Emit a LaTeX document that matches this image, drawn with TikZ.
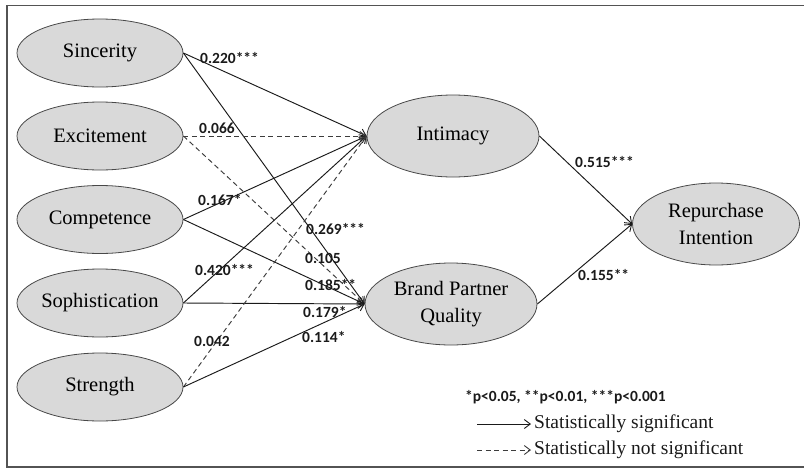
\documentclass[tikz,border=0pt]{standalone}
\usepackage{fontspec}
\setmainfont{Liberation Serif}
\newfontfamily\labfont{Carlito}
\usetikzlibrary{arrows.meta,shapes.geometric}
\definecolor{ellfill}{HTML}{D9D9D9}
\definecolor{ink}{HTML}{1A1A1A}
\tikzset{
  lat/.style={ellipse,draw=ink!80,line width=0.8pt,fill=ellfill,minimum width=166pt,minimum height=68pt,inner sep=0pt,align=center,font=\fontsize{20.5}{27.5}\selectfont},
  big/.style={lat,minimum width=172pt,minimum height=82pt},
  tip/.style={-{Straight Barb[length=6pt,width=9pt,line width=0.9pt]}},
  sig/.style={tip,draw=ink,line width=0.95pt},
  ns/.style={tip,draw=ink!85,line width=0.95pt,dash pattern=on 5pt off 3.5pt},
  coef/.style={anchor=west,inner sep=0pt,text=ink,font=\labfont\bfseries\fontsize{15.5}{18}\selectfont},
  legtxt/.style={anchor=west,inner sep=0pt,text=ink,font=\fontsize{19.5}{22}\selectfont},
}
\begin{document}
\begin{tikzpicture}[x=1pt,y=-1pt]
\useasboundingbox (0,0) rectangle (804,469);
\draw[ink!75,line width=1.2pt] (810,5.5) -- (7,5.5) -- (7,467) -- (810,467);
% nodes
\node[lat] (sin) at (100,53) {Sincerity};
\node[lat] (exc) at (100,136) {Excitement};
\node[lat] (com) at (100,219.5) {Competence};
\node[lat] (sop) at (100,303) {Sophistication};
\node[lat] (str) at (100,387) {Strength};
\node[big] (int) at (453,136) {Intimacy};
\node[big] (bpq) at (451,304) {Brand Partner\\Quality};
\node[big,minimum width=167pt] (rep) at (716,224) {Repurchase\\Intention};
% connectors
\draw[sig] (sin.east) -- (int.west);
\draw[sig] (sin.east) -- (bpq.west);
\draw[ns]  (exc.east) -- (int.west);
\draw[ns]  (exc.east) -- (bpq.west);
\draw[sig] (com.east) -- (int.west);
\draw[sig] (com.east) -- (bpq.west);
\draw[sig] (sop.east) -- (int.west);
\draw[sig] (sop.east) -- (bpq.west);
\draw[ns]  (str.east) -- (int.west);
\draw[sig] (str.east) -- (bpq.west);
\draw[sig] (int.east) -- (rep.west);
\draw[sig] (bpq.east) -- (rep.west);
% coefficients
\node[coef] (c1) at (200,58) {0.220***};
\node[coef] (c2) at (199,128) {0.066};
\node[coef] (c3) at (198,200) {0.167*};
\node[coef] (c4) at (306,229) {0.269***};
\node[coef] (c5) at (305,258) {0.105};
\node[coef] (c6) at (305,285) {0.185**};
\node[coef] (c7) at (195,270) {0.420***};
\node[coef] (c8) at (303,312) {0.179*};
\node[coef] (c9) at (194,341) {0.042};
\node[coef] (c10) at (302,337) {0.114*};
\node[coef] (c11) at (575,162) {0.515***};
\node[coef] (c12) at (578,275) {0.155**};
% legend
\node[coef] (lp) at (465,397) {*p<0.05, **p<0.01, ***p<0.001};
\coordinate (ls1) at (477,424);
\coordinate (le1) at (531,424);
\coordinate (ls2) at (477,450);
\coordinate (le2) at (531,450);
\draw[sig] (ls1) -- (le1);
\draw[ns] (ls2) -- (le2);
\node[legtxt] (lt1) at (534,424) {Statistically significant};
\node[legtxt] (lt2) at (534,450) {Statistically not significant};
\end{tikzpicture}
\end{document}
